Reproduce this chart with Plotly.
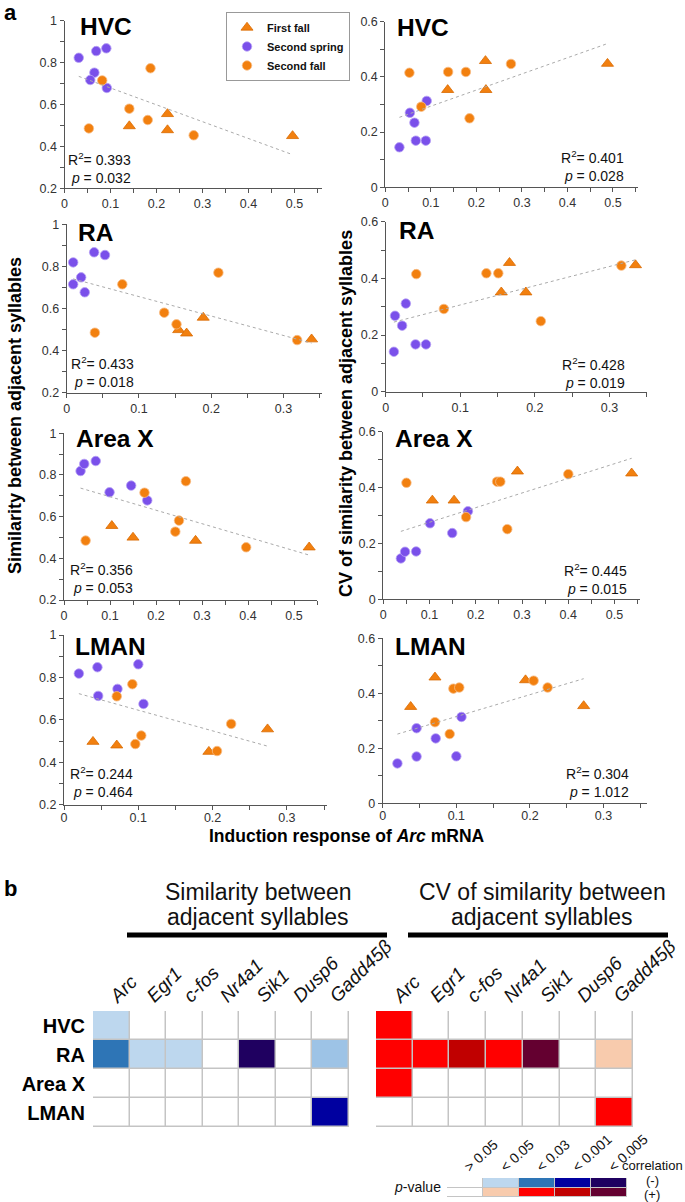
import numpy as np
import plotly.graph_objects as go

W, H = 685, 1202
FONT = "Liberation Sans, Arial, Helvetica, sans-serif"

# ---------------- data (panel a) ----------------
# point order in every panel: 6 x Second spring, 6 x Second fall, 4 x First fall
GROUP = ["SS", "SS", "SS", "SS", "SS", "SS",
         "SF", "SF", "SF", "SF", "SF", "SF",
         "FF", "FF", "FF", "FF"]

HVC_SIM_X = [0.031, 0.069, 0.091, 0.065, 0.056, 0.092, 0.082, 0.187, 0.141, 0.181, 0.053, 0.281, 0.224, 0.141, 0.224, 0.496]
HVC_SIM_Y = [0.823, 0.855, 0.868, 0.752, 0.717, 0.679, 0.715, 0.773, 0.580, 0.526, 0.486, 0.453, 0.555, 0.497, 0.478, 0.450]
HVC_CV_X = [0.031, 0.054, 0.064, 0.067, 0.089, 0.091, 0.053, 0.138, 0.177, 0.276, 0.079, 0.185, 0.220, 0.137, 0.221, 0.488]
HVC_CV_Y = [0.145, 0.270, 0.234, 0.169, 0.169, 0.313, 0.415, 0.418, 0.418, 0.447, 0.292, 0.250, 0.458, 0.353, 0.353, 0.448]
RA_SIM_X = [0.009, 0.038, 0.053, 0.020, 0.009, 0.025, 0.077, 0.210, 0.135, 0.152, 0.039, 0.319, 0.189, 0.155, 0.166, 0.339]
RA_SIM_Y = [0.819, 0.867, 0.854, 0.748, 0.715, 0.677, 0.715, 0.770, 0.580, 0.525, 0.485, 0.450, 0.557, 0.498, 0.482, 0.454]
RA_CV_X = [0.011, 0.0125, 0.022, 0.027, 0.040, 0.054, 0.041, 0.135, 0.151, 0.316, 0.078, 0.208, 0.166, 0.155, 0.188, 0.335]
RA_CV_Y = [0.141, 0.268, 0.233, 0.311, 0.167, 0.167, 0.415, 0.418, 0.418, 0.445, 0.292, 0.249, 0.455, 0.351, 0.351, 0.447]
AX_SIM_X = [0.036, 0.044, 0.069, 0.146, 0.099, 0.181, 0.175, 0.265, 0.250, 0.242, 0.047, 0.396, 0.104, 0.150, 0.286, 0.533]
AX_SIM_Y = [0.819, 0.853, 0.867, 0.749, 0.717, 0.678, 0.715, 0.770, 0.581, 0.528, 0.485, 0.453, 0.556, 0.500, 0.485, 0.453]
AX_CV_X = [0.038, 0.047, 0.071, 0.101, 0.149, 0.183, 0.050, 0.246, 0.253, 0.400, 0.179, 0.268, 0.290, 0.106, 0.153, 0.537]
AX_CV_Y = [0.146, 0.170, 0.171, 0.272, 0.237, 0.315, 0.417, 0.421, 0.421, 0.448, 0.294, 0.251, 0.458, 0.354, 0.354, 0.451]
LM_SIM_X = [0.020, 0.045, 0.100, 0.072, 0.046, 0.107, 0.071, 0.092, 0.225, 0.104, 0.096, 0.206, 0.274, 0.039, 0.071, 0.195]
LM_SIM_Y = [0.818, 0.848, 0.862, 0.746, 0.713, 0.675, 0.711, 0.768, 0.581, 0.526, 0.486, 0.453, 0.556, 0.497, 0.480, 0.450]
LM_CV_X = [0.020, 0.046, 0.046, 0.072, 0.100, 0.107, 0.096, 0.104, 0.205, 0.224, 0.071, 0.091, 0.071, 0.038, 0.194, 0.273]
LM_CV_Y = [0.145, 0.273, 0.170, 0.236, 0.171, 0.314, 0.417, 0.421, 0.446, 0.421, 0.295, 0.252, 0.458, 0.351, 0.448, 0.354]

PANEL_NAMES = ["HVC", "HVC", "RA", "RA", "Area X", "Area X", "LMAN", "LMAN"]
R2_TEXT = ["0.393", "0.401", "0.433", "0.428", "0.356", "0.445", "0.244", "0.304"]
P_TEXT = ["0.032", "0.028", "0.018", "0.019", "0.053", "0.015", "0.464", "1.012"]

# ---------------- data (panel b) ----------------
GENES = ["Arc", "Egr1", "c-fos", "Nr4a1", "Sik1", "Dusp6", "Gadd45β"]
REGIONS = ["HVC", "RA", "Area X", "LMAN"]
# colour index codes (see CELL_COLORS)
SIM_CODES = [[1, 0, 0, 0, 0, 0, 0],
             [2, 1, 1, 0, 4, 0, 9],
             [0, 0, 0, 0, 0, 0, 0],
             [0, 0, 0, 0, 0, 0, 3]]
CV_CODES = [[6, 0, 0, 0, 0, 0, 0],
            [6, 6, 7, 6, 8, 0, 5],
            [6, 0, 0, 0, 0, 0, 0],
            [0, 0, 0, 0, 0, 0, 6]]
P_LEVELS = ["&gt; 0.05", "&lt; 0.05", "&lt; 0.03", "&lt; 0.001", "&lt; 0.005"]
KEY_CODES = [[0, 1, 2, 3, 4],
             [0, 5, 6, 7, 8]]

CELL_COLORS = ["#FFFFFF", "#BDD7EE", "#2E75B6", "#0000A0", "#1F0060",
               "#F8CBAD", "#FF0000", "#C00000", "#640030", "#9DC3E6"]

ORANGE = "#F2800F"
PURPLE = "#7A50EA"

# ---------------- layout helpers ----------------
def dx(a, b):
    return [a / W, b / W]

def dy(top, bottom):
    return [1 - bottom / H, 1 - top / H]

def px(x):
    return x / W

def py(y):
    return 1 - y / H

panels = [
    dict(x=HVC_SIM_X, y=HVC_SIM_Y, xd=(64.5, 322), yd=(20.7, 188.3), xr=[0, 0.56], yr=[0.2, 1],
         name=(78, 27), stat=(133, 168)),
    dict(x=HVC_CV_X, y=HVC_CV_Y, xd=(385.3, 638), yd=(21.7, 187.3), xr=[0, 0.555], yr=[0, 0.6],
         name=(395, 28), stat=(626, 166)),
    dict(x=RA_SIM_X, y=RA_SIM_Y, xd=(66.7, 321.7), yd=(224.3, 392.7), xr=[0, 0.353], yr=[0.2, 1],
         name=(76, 232), stat=(136, 372)),
    dict(x=RA_CV_X, y=RA_CV_Y, xd=(385.7, 646.7), yd=(221.7, 391.7), xr=[0, 0.35], yr=[0, 0.6],
         name=(397, 230), stat=(627, 373)),
    dict(x=AX_SIM_X, y=AX_SIM_Y, xd=(64, 317), yd=(433.3, 600), xr=[0, 0.55], yr=[0.2, 1],
         name=(74, 438), stat=(135, 578)),
    dict(x=AX_CV_X, y=AX_CV_Y, xd=(383.3, 640), yd=(431.7, 599.2), xr=[0, 0.555], yr=[0, 0.6],
         name=(393, 438), stat=(629, 579)),
    dict(x=LM_SIM_X, y=LM_SIM_Y, xd=(64, 327), yd=(635, 804.7), xr=[0, 0.354], yr=[0.2, 1],
         name=(73, 646), stat=(135, 782)),
    dict(x=LM_CV_X, y=LM_CV_Y, xd=(382.7, 647), yd=(638.3, 803.3), xr=[0, 0.359], yr=[0, 0.6],
         name=(393, 646), stat=(631, 782)),
]

STYLE = {
    "FF": dict(label="First fall", symbol="triangle-up", color=ORANGE, size=10.5, line="#D96A00"),
    "SS": dict(label="Second spring", symbol="circle", color=PURPLE, size=9.5, line="#B7A2F5"),
    "SF": dict(label="Second fall", symbol="circle", color=ORANGE, size=9.5, line="#F8BC86"),
}


def ann(x, y, text, size, xanchor="center", yanchor="middle", **kw):
    d = dict(x=px(x), y=py(y), xref="paper", yref="paper", xanchor=xanchor, yanchor=yanchor,
             showarrow=False, text=text, font=dict(size=size, color=kw.pop("color", "#111"), family=FONT))
    d.update(kw)
    return d


fig = go.Figure()
layout = dict(
    width=W, height=H, margin=dict(l=0, r=0, t=0, b=0, autoexpand=False),
    paper_bgcolor="white", plot_bgcolor="white",
    font=dict(family=FONT, color="#222"),
    showlegend=True,
    legend=dict(x=px(226), y=py(12), xanchor="left", yanchor="top",
                bordercolor="#999", borderwidth=1, bgcolor="white",
                font=dict(size=11, family=FONT, color="#111"),
                tracegroupgap=0, itemsizing="trace", itemwidth=30),
)
annotations = []
shapes = []

axis_line = "#555"
for i, p in enumerate(panels):
    n = i + 1
    xs = np.array(p["x"])
    ys = np.array(p["y"])
    grp = np.array(GROUP)
    for g in ["FF", "SS", "SF"]:
        m = grp == g
        st = STYLE[g]
        fig.add_trace(go.Scatter(
            x=xs[m], y=ys[m], mode="markers", xaxis=f"x{n}", yaxis=f"y{n}",
            name=f"<b>{st['label']}</b>", legendgroup=g, showlegend=(i == 0),
            marker=dict(symbol=st["symbol"], color=st["color"], size=st["size"],
                        line=dict(color=st["line"], width=0.8)),
            hoverinfo="skip"))
    # least-squares trend line
    k, b = np.polyfit(xs, ys, 1)
    tx = np.array([xs.min(), xs.max()])
    fig.add_trace(go.Scatter(
        x=tx, y=k * tx + b, mode="lines", xaxis=f"x{n}", yaxis=f"y{n}",
        line=dict(color="#AAAAAA", width=1, dash="dot"), showlegend=False, hoverinfo="skip"))

    layout[f"xaxis{n}"] = dict(
        domain=dx(*p["xd"]), range=p["xr"], anchor=f"y{n}",
        tick0=0, dtick=0.1, ticks="outside", ticklen=4, tickcolor=axis_line,
        minor=dict(tick0=0, dtick=0.05, ticks="outside", ticklen=4, tickcolor=axis_line),
        showline=True, linecolor=axis_line, linewidth=1, showgrid=False, zeroline=False,
        ticklabelstandoff=(-3 if n >= 7 else 0),
        tickfont=dict(size=12.5, color="#333", family=FONT))
    layout[f"yaxis{n}"] = dict(
        domain=dy(*p["yd"]), range=p["yr"], anchor=f"x{n}",
        tick0=0, dtick=0.2, ticks="outside", ticklen=4, tickcolor=axis_line,
        minor=dict(tick0=0, dtick=0.1, ticks="outside", ticklen=4, tickcolor=axis_line),
        showline=True, linecolor=axis_line, linewidth=1, showgrid=False, zeroline=False,
        tickfont=dict(size=12.5, color="#333", family=FONT))

    annotations.append(ann(p["name"][0], p["name"][1], f"<b>{PANEL_NAMES[i]}</b>", 24.5,
                           xanchor="left", color="black"))
    annotations.append(ann(p["stat"][0], p["stat"][1],
                           f"R<sup>2</sup>= {R2_TEXT[i]}<br><i>p</i> = {P_TEXT[i]}", 14,
                           xanchor="right", align="right"))

# axis titles for panel a
annotations += [
    ann(15, 416, "<b>Similarity between adjacent syllables</b>", 18, textangle=-90, color="black"),
    ann(346, 414, "<b>CV of similarity between adjacent syllables</b>", 18, textangle=-90, color="black"),
    ann(347, 836, "<b>Induction response of <i>Arc</i> mRNA</b>", 17.5, color="black"),
    ann(2, 13, "<b>a</b>", 22, xanchor="left", color="black"),
    ann(2, 888, "<b>b</b>", 22, xanchor="left", color="black"),
]

# ---------------- panel b heatmaps ----------------
ncol = len(CELL_COLORS)
cscale = []
for j, c in enumerate(CELL_COLORS):
    cscale.append([j / ncol, c])
    cscale.append([(j + 1) / ncol, c])

GRID = "#C4C4C4"
heat_specs = [
    (9, SIM_CODES, (93, 349), (1011, 1127)),
    (10, CV_CODES, (376, 633), (1011, 1127)),
]
for n, codes, xd_, yd_ in heat_specs:
    nr, nc = len(codes), len(codes[0])
    fig.add_trace(go.Heatmap(
        z=codes, x=list(range(nc)), y=list(range(nr)), xaxis=f"x{n}", yaxis=f"y{n}",
        colorscale=cscale, zmin=-0.5, zmax=ncol - 0.5, showscale=False,
        xgap=1.5, ygap=1.5, hoverinfo="skip"))
    layout[f"xaxis{n}"] = dict(
        domain=dx(*xd_), anchor=f"y{n}", side="top", range=[-0.5, nc - 0.5],
        tickvals=list(range(nc)), ticktext=[f"<i>{g}</i>" for g in GENES], tickangle=-45,
        ticks="", showline=False, showgrid=False, zeroline=False,
        tickfont=dict(size=19, color="#111", family=FONT))
    layout[f"yaxis{n}"] = dict(
        domain=dy(*yd_), anchor=f"x{n}", range=[nr - 0.5, -0.5],
        tickvals=list(range(nr)), ticktext=[f"<b>{r}</b>" for r in REGIONS],
        showticklabels=(n == 9), ticks="", ticklabelstandoff=7,
        showline=False, showgrid=False, zeroline=False,
        tickfont=dict(size=20, color="black", family=FONT))
    shapes.append(dict(type="rect", xref=f"x{n}", yref=f"y{n}", layer="below",
                       x0=-0.5, x1=nc - 0.5, y0=-0.5, y1=nr - 0.5,
                       fillcolor=GRID, line=dict(width=0)))

# key
n = 11
fig.add_trace(go.Heatmap(
    z=KEY_CODES, x=list(range(len(P_LEVELS))), y=[0, 1], xaxis=f"x{n}", yaxis=f"y{n}",
    colorscale=cscale, zmin=-0.5, zmax=ncol - 0.5, showscale=False,
    xgap=1, ygap=1, hoverinfo="skip"))
layout[f"xaxis{n}"] = dict(
    domain=dx(447, 627), anchor=f"y{n}", side="top", range=[-0.5, len(P_LEVELS) - 0.5],
    tickvals=list(range(len(P_LEVELS))), ticktext=P_LEVELS, tickangle=-42,
    ticks="", showline=False, showgrid=False, zeroline=False,
    tickfont=dict(size=14, color="#111", family=FONT))
layout[f"yaxis{n}"] = dict(
    domain=dy(1178, 1197), anchor=f"x{n}", range=[1.5, -0.5], showticklabels=False,
    ticks="", showline=False, showgrid=False, zeroline=False)
shapes.append(dict(type="rect", xref=f"x{n}", yref=f"y{n}", layer="below",
                   x0=-0.5, x1=len(P_LEVELS) - 0.5, y0=-0.5, y1=1.5,
                   fillcolor=GRID, line=dict(width=0)))

annotations += [
    ann(258, 892, "Similarity between", 23),
    ann(258, 917, "adjacent syllables", 23),
    ann(542, 892, "CV of similarity between", 23),
    ann(542, 917, "adjacent syllables", 23),
    ann(443, 1187, "<i>p</i>-value", 14, xanchor="right"),
    ann(652, 1165, "correlation", 13),
    ann(652, 1180, "(-)", 13),
    ann(652, 1194, "(+)", 13),
]

shapes += [
    dict(type="line", xref="paper", yref="paper", x0=px(127), x1=px(387), y0=py(935), y1=py(935),
         line=dict(color="black", width=5)),
    dict(type="line", xref="paper", yref="paper", x0=px(408), x1=px(668), y0=py(935), y1=py(935),
         line=dict(color="black", width=5)),
]

layout["annotations"] = annotations
layout["shapes"] = shapes
fig.update_layout(**layout)
fig.write_html("out.html", config={"displayModeBar": False, "staticPlot": True},
               post_script="document.body.style.margin='0';document.body.style.overflow='hidden';")
